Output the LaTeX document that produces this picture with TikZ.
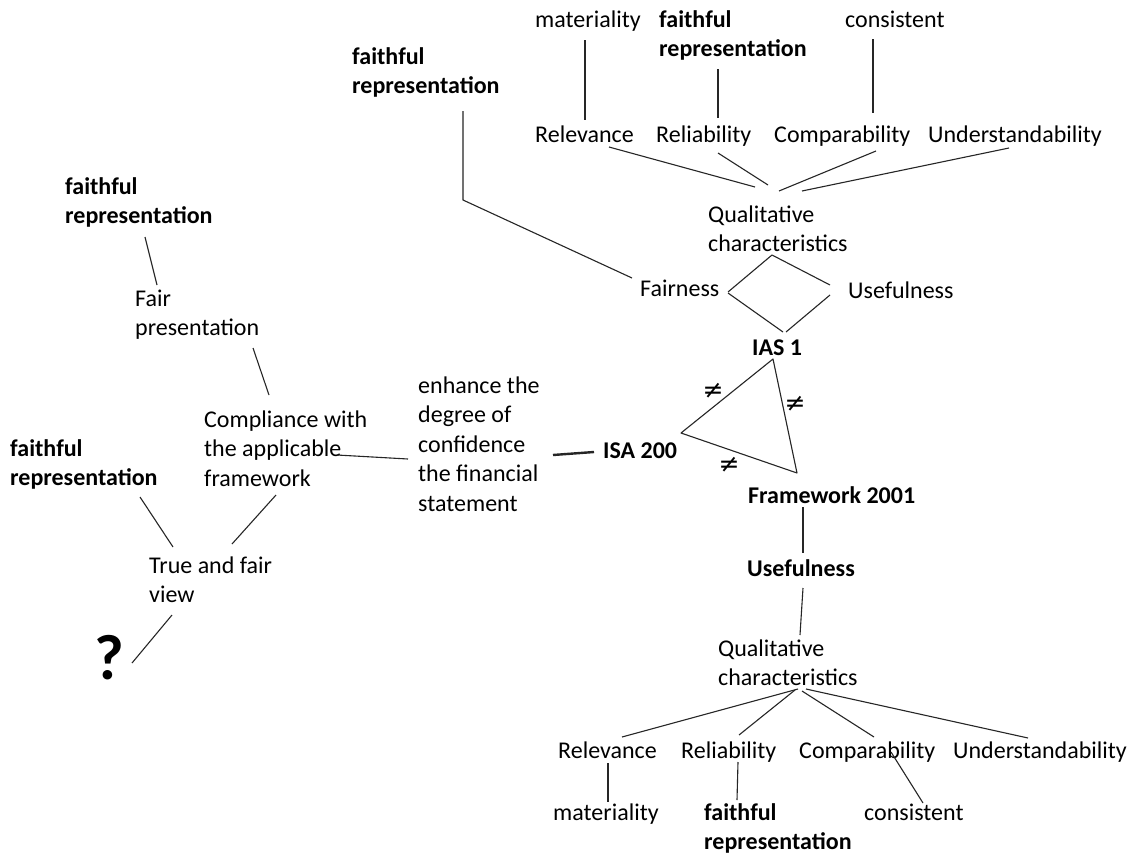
\documentclass[tikz,border=0pt]{standalone}
\usepackage{fontspec}
\setmainfont{Carlito}
\newfontfamily\symfont{DejaVu Sans}
\newcommand{\ml}[1]{\vtop{\halign{##\hfil\cr #1\crcr}}}
\tikzset{
  txt/.style={font=\fontsize{24}{29.5}\selectfont, inner sep=0pt, anchor=base west},
  txtb/.style={font=\fontsize{24}{29.5}\selectfont\bfseries, inner sep=0pt, anchor=base west},
  con/.style={draw=black!85, line width=1.1pt},
  neqlbl/.style={font=\symfont\fontsize{25}{28}\selectfont, inner sep=0pt},
}
\begin{document}
\begin{tikzpicture}[x=1pt, y=-1pt]
\fill[white] (0,0) rectangle (1132,854);
\useasboundingbox (0,0) rectangle (1132,854);
% top tree
\node[txt]  (mat)   at (535,27)  {materiality};
\node[txtb] (frT)   at (659,27)  {\ml{faithful\cr representation}};
\node[txt]  (conT)  at (845,27)  {consistent};
\node[txtb] (frTL)  at (352,64)  {\ml{faithful\cr representation}};
\node[txt]  (relT)  at (535,142) {Relevance};
\node[txt]  (reliT) at (656,142) {Reliability};
\node[txt]  (compT) at (774,142) {Comparability};
\node[txt]  (undT)  at (928,142) {Understandability};
\node[txt]  (qT)    at (708,222) {\ml{Qualitative\cr characteristics}};
\node[txt]  (fair)  at (640,296) {Fairness};
\node[txt]  (useT)  at (848,298) {Usefulness};
\node[txtb] (ias)   at (752,355) {IAS 1};
\node[txtb] (isa)   at (603,458) {ISA 200};
\node[txtb] (fw)    at (748,503) {Framework 2001};
\node[txtb] (useB)  at (747,576) {Usefulness};
\node[txt]  (qB)    at (718,656) {\ml{Qualitative\cr characteristics}};
\node[txt]  (relB)  at (558,758) {Relevance};
\node[txt]  (reliB) at (681,758) {Reliability};
\node[txt]  (compB) at (799,758) {Comparability};
\node[txt]  (undB)  at (953,758) {Understandability};
\node[txt]  (matB)  at (553,820) {materiality};
\node[txtb] (frB)   at (704,820) {\ml{faithful\cr representation}};
\node[txt]  (conB)  at (864,820) {consistent};
% left part
\node[txtb] (frUL)  at (65,194)  {\ml{faithful\cr representation}};
\node[txt]  (fp)    at (135,306) {\ml{Fair\cr presentation}};
\node[txt]  (comp)  at (204,427) {\ml{Compliance with\cr the applicable\cr framework}};
\node[txt]  (enh)   at (418,393) {\ml{enhance the\cr degree of\cr confidence\cr the financial\cr statement}};
\node[txtb] (frL)   at (10,456)  {\ml{faithful\cr representation}};
\node[txt]  (tfv)   at (149,573) {\ml{True and fair\cr view}};
\node[font=\fontsize{64}{70}\selectfont\bfseries, inner sep=0pt, anchor=base west] (qm) at (94,679) {?};

% connectors, top tree
\draw[con] ([shift={(50,13)}]mat.base west) -- ([shift={(50,-22)}]relT.base west);
\draw[con] ([shift={(59,42)}]frT.base west) -- ([shift={(62,-24)}]reliT.base west);
\draw[con] ([shift={(28,12)}]conT.base west) -- ([shift={(99,-29)}]compT.base west);
\draw[con] ([shift={(111,47)}]frTL.base west) -- ([shift={(111,136)}]frTL.base west) -- ([shift={(-8,-18)}]fair.base west);
\draw[con] ([shift={(74,5)}]relT.base west) -- ([shift={(47,-35)}]qT.base west);
\draw[con] ([shift={(62,11)}]reliT.base west) -- ([shift={(60,-37)}]qT.base west);
\draw[con] ([shift={(102,9)}]compT.base west) -- ([shift={(71,-31)}]qT.base west);
\draw[con] ([shift={(81,6)}]undT.base west) -- ([shift={(94,-31)}]qT.base west);
% diamond
\draw[con] ([shift={(64,33)}]qT.base west) -- ([shift={(88,-4)}]fair.base west);
\draw[con] ([shift={(64,33)}]qT.base west) -- ([shift={(-18,-13)}]useT.base west);
\draw[con] ([shift={(88,-3)}]fair.base west) -- ([shift={(31,-23)}]ias.base west);
\draw[con] ([shift={(-18,-3)}]useT.base west) -- ([shift={(34,-23)}]ias.base west);
% triangle
\draw[con, line join=round] ([shift={(21,4)}]ias.base west)
  -- node[neqlbl, shift={(-14,-5)}] {≠} ([shift={(78,-25)}]isa.base west)
  -- node[neqlbl, shift={(-10,12)}] {≠} ([shift={(49,-30)}]fw.base west)
  -- node[neqlbl, shift={(10,-12)}] {≠} cycle;
% middle
\draw[draw=black!85, line width=2.4pt] ([shift={(-9,-6)}]isa.base west) -- ([shift={(135,62)}]enh.base west);
\draw[con] ([shift={(-10,66)}]enh.base west) -- ([shift={(133,28)}]comp.base west);
\draw[con] ([shift={(118,42)}]fp.base west) -- ([shift={(65,-32)}]comp.base west);
\draw[con] ([shift={(80,43)}]frUL.base west) -- ([shift={(22,-21)}]fp.base west);
\draw[con] ([shift={(130,41)}]frL.base west) -- ([shift={(24,-26)}]tfv.base west);
\draw[con] ([shift={(72,68)}]comp.base west) -- ([shift={(83,-29)}]tfv.base west);
\draw[con] ([shift={(23,42)}]tfv.base west) -- ([shift={(38,-16)}]qm.base west);
% bottom tree
\draw[con] ([shift={(55,4)}]fw.base west) -- ([shift={(56,-23)}]useB.base west);
\draw[con] ([shift={(56,12)}]useB.base west) -- ([shift={(82,-21)}]qB.base west);
\draw[con] ([shift={(80,33)}]qB.base west) -- ([shift={(64,-21)}]relB.base west);
\draw[con] ([shift={(77,34)}]qB.base west) -- ([shift={(58,-23)}]reliB.base west);
\draw[con] ([shift={(84,35)}]qB.base west) -- ([shift={(75,-21)}]compB.base west);
\draw[con] ([shift={(88,33)}]qB.base west) -- ([shift={(75,-20)}]undB.base west);
\draw[con] ([shift={(50,5)}]relB.base west) -- ([shift={(55,-18)}]matB.base west);
\draw[con] ([shift={(57,4)}]reliB.base west) -- ([shift={(33,-20)}]frB.base west);
\draw[con] ([shift={(92,-6)}]compB.base west) -- ([shift={(59,-17)}]conB.base west);
\end{tikzpicture}
\end{document}
